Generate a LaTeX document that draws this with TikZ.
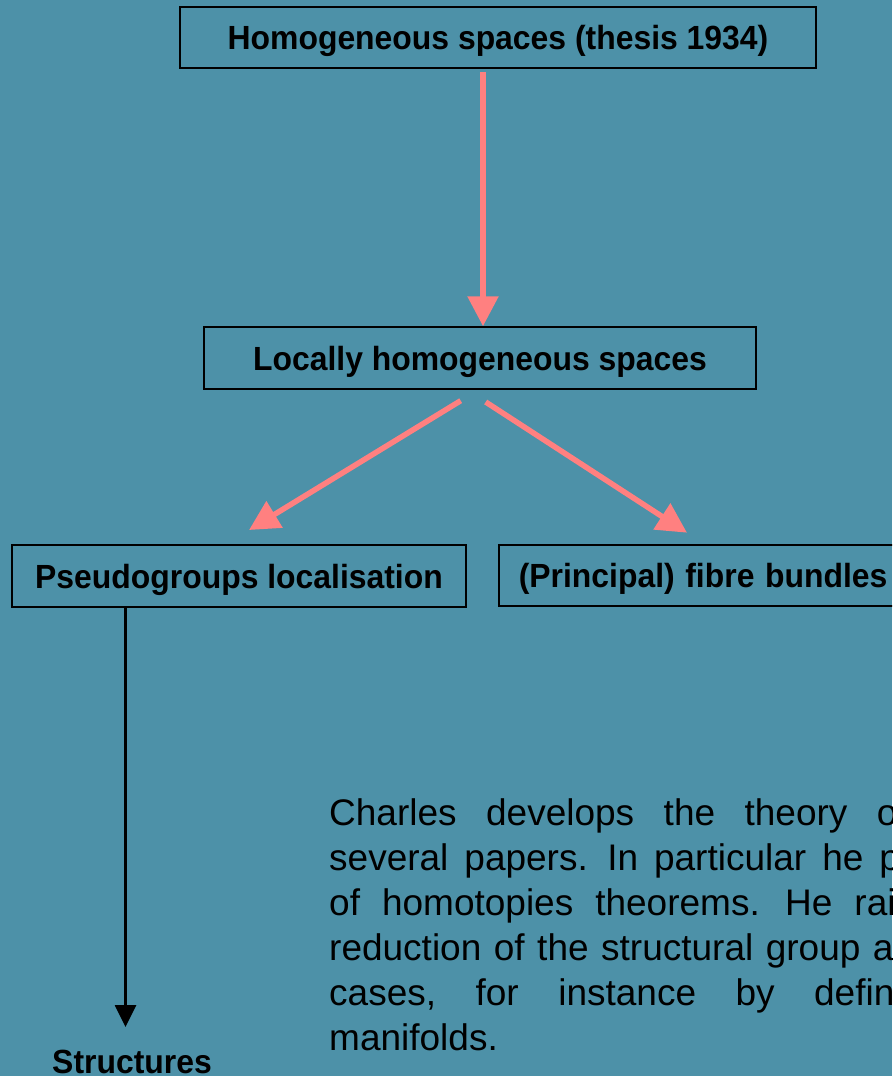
\documentclass[tikz,border=0pt]{standalone}
\usepackage{fontspec}
\usepackage{graphicx}
\setmainfont{Liberation Sans}
\usetikzlibrary{arrows.meta}
\definecolor{bgteal}{RGB}{77,145,168}
\definecolor{salmon}{RGB}{255,128,128}
% bold labels are set slightly taller than the plain face
\newcommand\tallbold[1]{\scalebox{1}[1.05]{#1}}
\begin{document}
\begin{tikzpicture}[x=1pt,y=-1pt,
  box/.style={draw=black,line width=1.5pt,inner sep=0pt,
    text height=24pt,text depth=0pt,
    font=\bfseries\fontsize{31.9}{38}\selectfont},
  pinkarrow/.style={draw=salmon,line width=5.5pt,
    -{Triangle[length=30pt,width=30pt]}},
  blackarrow/.style={draw=black,line width=2.7pt,
    -{Triangle[length=22pt,width=21pt]}},
  paraline/.style={anchor=base west,inner sep=0pt,
    font=\fontsize{37}{44}\selectfont},
  label/.style={anchor=base,inner sep=0pt,
    font=\bfseries\fontsize{31.9}{38}\selectfont}]
\useasboundingbox (0,0) rectangle (892,1076);
\fill[bgteal] (0,0) rectangle (892,1076);
\clip (0,0) rectangle (892,1076);

% boxes
\node[box,minimum width=636pt,minimum height=61pt] (top) at (498,37.5)
  {\tallbold{Homogeneous spaces (thesis 1934)}};
\node[box,minimum width=552pt,minimum height=62pt] (mid) at (480,358)
  {\tallbold{Locally homogeneous spaces}};
\node[box,minimum width=454pt,minimum height=62pt] (pseudo) at (239,576)
  {\tallbold{Pseudogroups localisation}};
\node[box,minimum width=420pt,minimum height=61pt,anchor=west,
  text width=380pt,align=left,inner xsep=20pt] (fibre) at (498,575.5)
  {\tallbold{(Principal) fibre bundles}};

% connector end points
\coordinate (a1s) at (483,72);
\coordinate (a2s) at (460.7,400.7);
\coordinate (a2e) at (249,530);
\coordinate (a3s) at (485.7,402);
\coordinate (a3e) at (687,532.7);
\coordinate (a4x) at (125.5,0);
\coordinate (a4e) at (125.5,1027);

\draw[pinkarrow] (a1s) -- (a1s |- mid.north);
\draw[pinkarrow] (a2s) -- (a2e);
\draw[pinkarrow] (a3s) -- (a3e);
\draw[blackarrow] (a4x |- pseudo.south) -- (a4e);

\node[label] (struct) at (132,1073) {\tallbold{Structures}};

% justified paragraph, one line per node
\node[paraline] (p1) at (329,825) {\spaceskip=29.5pt Charles develops the theory o};
\node[paraline] (p2) at (329,870) {\spaceskip=16pt several papers. In particular he p};
\node[paraline] (p3) at (329,915) {\spaceskip=22pt of homotopies theorems. He rais};
\node[paraline] (p4) at (329,960) {\spaceskip=12.5pt reduction of the structural group a};
\node[paraline] (p5) at (329,1005) {\spaceskip=39.5pt cases, for instance by defin};
\node[paraline] (p6) at (329,1050) {manifolds.};
\end{tikzpicture}
\end{document}
